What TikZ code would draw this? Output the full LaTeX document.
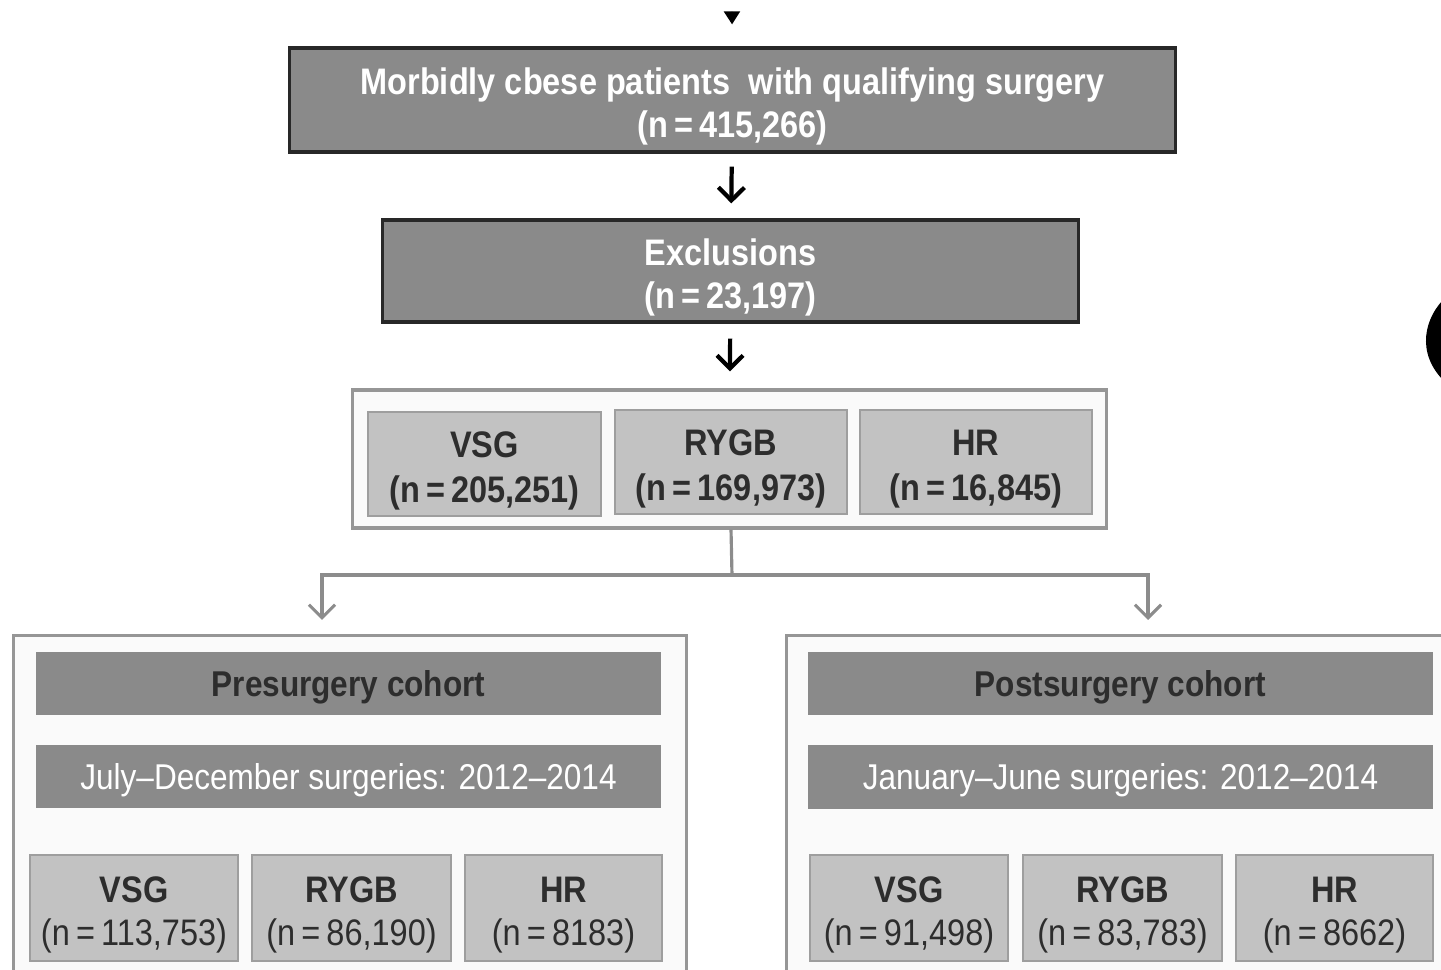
\documentclass[tikz,border=0pt]{standalone}
\usepackage{fontspec}
\setmainfont{Liberation Sans}[FakeStretch=0.88]
\usetikzlibrary{arrows.meta, positioning}
\definecolor{darkfill}{RGB}{138,138,138}
\definecolor{darkedge}{RGB}{40,40,40}
\definecolor{lightfill}{RGB}{194,194,194}
\definecolor{lightedge}{RGB}{158,158,158}
\definecolor{frameedge}{RGB}{150,150,150}
\definecolor{linkgray}{RGB}{140,140,140}
\definecolor{inktext}{RGB}{45,45,45}
\newcommand{\lift}{\rule{0pt}{11.2pt}}

\begin{document}
\begin{tikzpicture}[x=0.01cm, y=-0.01cm,
    darkbox/.style={draw=darkedge, line width=0.9pt, fill=darkfill,
                    text=white, align=center, inner sep=0pt,
                    font=\fontsize{10.5}{12.2}\selectfont\bfseries},
    frame/.style={draw=frameedge, line width=0.9pt, fill=white!98!black,
                  inner sep=0pt},
    armbox/.style={draw=lightedge, line width=0.7pt, fill=lightfill,
                   text=inktext, align=center, inner sep=0pt,
                   font=\fontsize{10.5}{12.2}\selectfont},
    band/.style={fill=darkfill, inner sep=0pt, align=center,
                 minimum width=6.25cm, minimum height=0.63cm,
                 execute at begin node={\rule{0pt}{9.5pt}},
                 font=\fontsize{10.2}{12}\selectfont},
    blackarrow/.style={-{Straight Barb[length=1.3mm, width=2.6mm]},
                       line width=1.2pt, black},
    grayarrow/.style={-{Straight Barb[length=1.3mm, width=2.6mm]},
                      line width=0.9pt, linkgray}]
    \clip (0,0) rectangle (1441,970);

    % flow from the top
    \coordinate (entry) at (732,14);
    \node[darkbox, minimum width=8.85cm, minimum height=1.04cm] (patients)
        at (732.5,100) {\lift Morbidly cbese patients\ \ with qualifying surgery\\(n\,=\,415,266)};
    \node[darkbox, minimum width=6.95cm, minimum height=1.02cm] (excl)
        at (730.5,271) {\lift Exclusions\\(n\,=\,23,197)};
    \draw[-{Triangle[length=1.3mm, width=1.6mm]}, line width=0.6pt, shorten >=0.22cm]
        (entry) -- (patients);
    \draw[blackarrow, shorten <=0.13cm, shorten >=0.15cm] (patients) -- (excl);

    % surgery types
    \node[frame, minimum width=7.53cm, minimum height=1.38cm] (split) at (729.5,459) {};
    \draw[blackarrow, shorten <=0.15cm, shorten >=0.17cm] (excl) -- (split);
    \node[armbox, minimum width=2.33cm, minimum height=1.04cm, font=\fontsize{10.5}{12.6}\selectfont\bfseries]
        (vsg) at (484.5,464) {\lift VSG\\(n\,=\,205,251)};
    \node[armbox, minimum width=2.32cm, minimum height=1.04cm, font=\fontsize{10.5}{12.6}\selectfont\bfseries]
        (rygb) at (731,462) {\lift RYGB\\(n\,=\,169,973)};
    \node[armbox, minimum width=2.32cm, minimum height=1.04cm, font=\fontsize{10.5}{12.6}\selectfont\bfseries]
        (hr) at (976,462) {\lift HR\\(n\,=\,16,845)};

    % cohort frames
    \node[frame, minimum width=6.72cm, minimum height=3.54cm] (pre) at (350,813) {};
    \node[frame, minimum width=6.83cm, minimum height=3.54cm] (post) at (1128.5,813) {};

    \coordinate (fork) at (732,575);
    \coordinate (preIn) at (322,620);
    \coordinate (postIn) at (1148,620);
    \draw[line width=0.9pt, linkgray] (split) -- (fork);
    \draw[grayarrow] (fork) -| (preIn);
    \draw[grayarrow] (fork) -| (postIn);

    % presurgery cohort
    \node[band, text=inktext, font=\fontsize{10.2}{12}\selectfont\bfseries]
        (preTitle) at (348.5,683.5) {Presurgery cohort};
    \node[band, text=white] (preRange) at (348.5,776.5) {July--December surgeries: 2012--2014};
    \node[armbox, minimum width=2.08cm, minimum height=1.06cm] (preVsg)
        at (134,908) {\lift\textbf{VSG}\\(n\,=\,113,753)};
    \node[armbox, minimum width=1.99cm, minimum height=1.06cm] (preRygb)
        at (351.5,908) {\lift\textbf{RYGB}\\(n\,=\,86,190)};
    \node[armbox, minimum width=1.97cm, minimum height=1.06cm] (preHr)
        at (563.5,908) {\lift\textbf{HR}\\(n\,=\,8183)};

    % postsurgery cohort
    \node[band, text=inktext, font=\fontsize{10.2}{12}\selectfont\bfseries]
        (postTitle) at (1120.5,683.5) {Postsurgery cohort};
    \node[band, text=white] (postRange) at (1120.5,777) {January--June surgeries: 2012--2014};
    \node[armbox, minimum width=1.98cm, minimum height=1.06cm] (postVsg)
        at (909,908) {\lift\textbf{VSG}\\(n\,=\,91,498)};
    \node[armbox, minimum width=1.99cm, minimum height=1.06cm] (postRygb)
        at (1122.5,908) {\lift\textbf{RYGB}\\(n\,=\,83,783)};
    \node[armbox, minimum width=1.97cm, minimum height=1.06cm] (postHr)
        at (1334.5,908) {\lift\textbf{HR}\\(n\,=\,8662)};

    % dark shape cut at the right edge
    \fill[black] (1445,298) .. controls (1426,316) and (1414,352) .. (1445,382) -- cycle;
\end{tikzpicture}
\end{document}
